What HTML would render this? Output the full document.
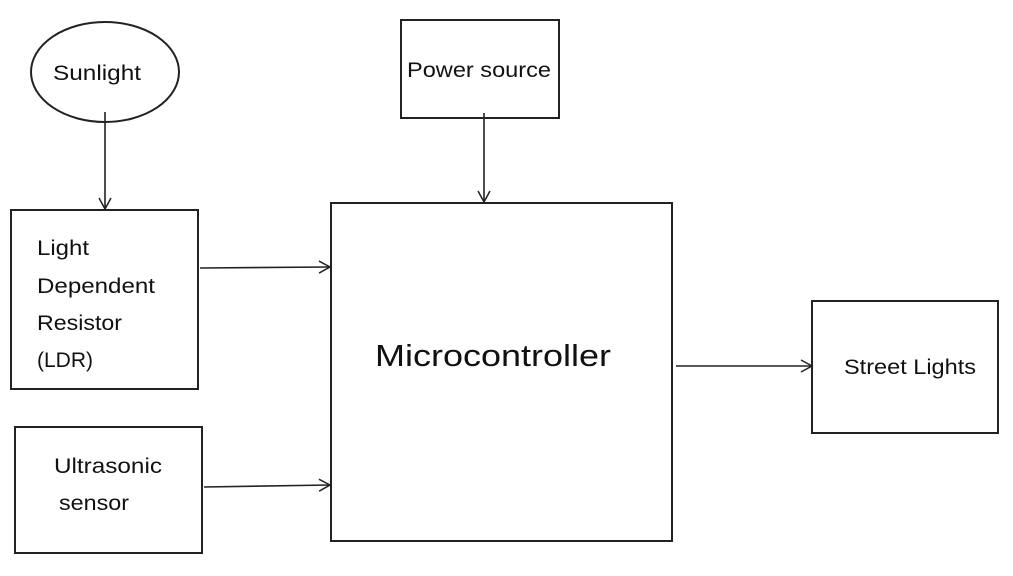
<!DOCTYPE html>
<html><head><meta charset="utf-8"><style>
html,body{margin:0;padding:0;background:#fff;}
svg{display:block;}
text{font-family:"Liberation Sans",sans-serif;fill:#111;}
</style></head><body>
<svg width="1013" height="576" viewBox="0 0 1013 576" xmlns="http://www.w3.org/2000/svg">
<defs>
<marker id="a" markerWidth="14" markerHeight="14" refX="12" refY="7" orient="auto" markerUnits="userSpaceOnUse">
<path d="M1,1 L12,7 L1,13" fill="none" stroke="#222" stroke-width="1.5"/>
</marker>
</defs>
<g fill="none" stroke="#222" stroke-width="2">
<ellipse cx="105" cy="72" rx="74" ry="50"/>
<rect x="11" y="210" width="187" height="179"/>
<rect x="15" y="427" width="187" height="126"/>
<rect x="331" y="203" width="341" height="338"/>
<rect x="401" y="20" width="158" height="98"/>
<rect x="812" y="301" width="186" height="132"/>
</g>
<g stroke="#222" stroke-width="1.6" marker-end="url(#a)">
<line x1="105" y1="112" x2="105" y2="209"/>
<line x1="200" y1="268" x2="330" y2="267"/>
<line x1="204" y1="487" x2="330" y2="485"/>
<line x1="484" y1="113" x2="484" y2="202"/>
<line x1="676" y1="366" x2="812" y2="366"/>
</g>
<g font-size="21">
<text x="53" y="80" textLength="88" lengthAdjust="spacingAndGlyphs">Sunlight</text>
<text x="37" y="255" textLength="52" lengthAdjust="spacingAndGlyphs">Light</text>
<text x="37" y="293" textLength="118" lengthAdjust="spacingAndGlyphs">Dependent</text>
<text x="37" y="330" textLength="85" lengthAdjust="spacingAndGlyphs">Resistor</text>
<text x="37" y="367" textLength="56" lengthAdjust="spacingAndGlyphs">(LDR)</text>
<text x="54" y="473" textLength="108" lengthAdjust="spacingAndGlyphs">Ultrasonic</text>
<text x="59" y="510" textLength="70" lengthAdjust="spacingAndGlyphs">sensor</text>
<text x="407" y="77" textLength="144" lengthAdjust="spacingAndGlyphs">Power source</text>
<text x="844" y="374" textLength="132" lengthAdjust="spacingAndGlyphs">Street Lights</text>
</g>
<text x="375" y="366" font-size="31" textLength="236" lengthAdjust="spacingAndGlyphs">Microcontroller</text>
</svg>
</body></html>
